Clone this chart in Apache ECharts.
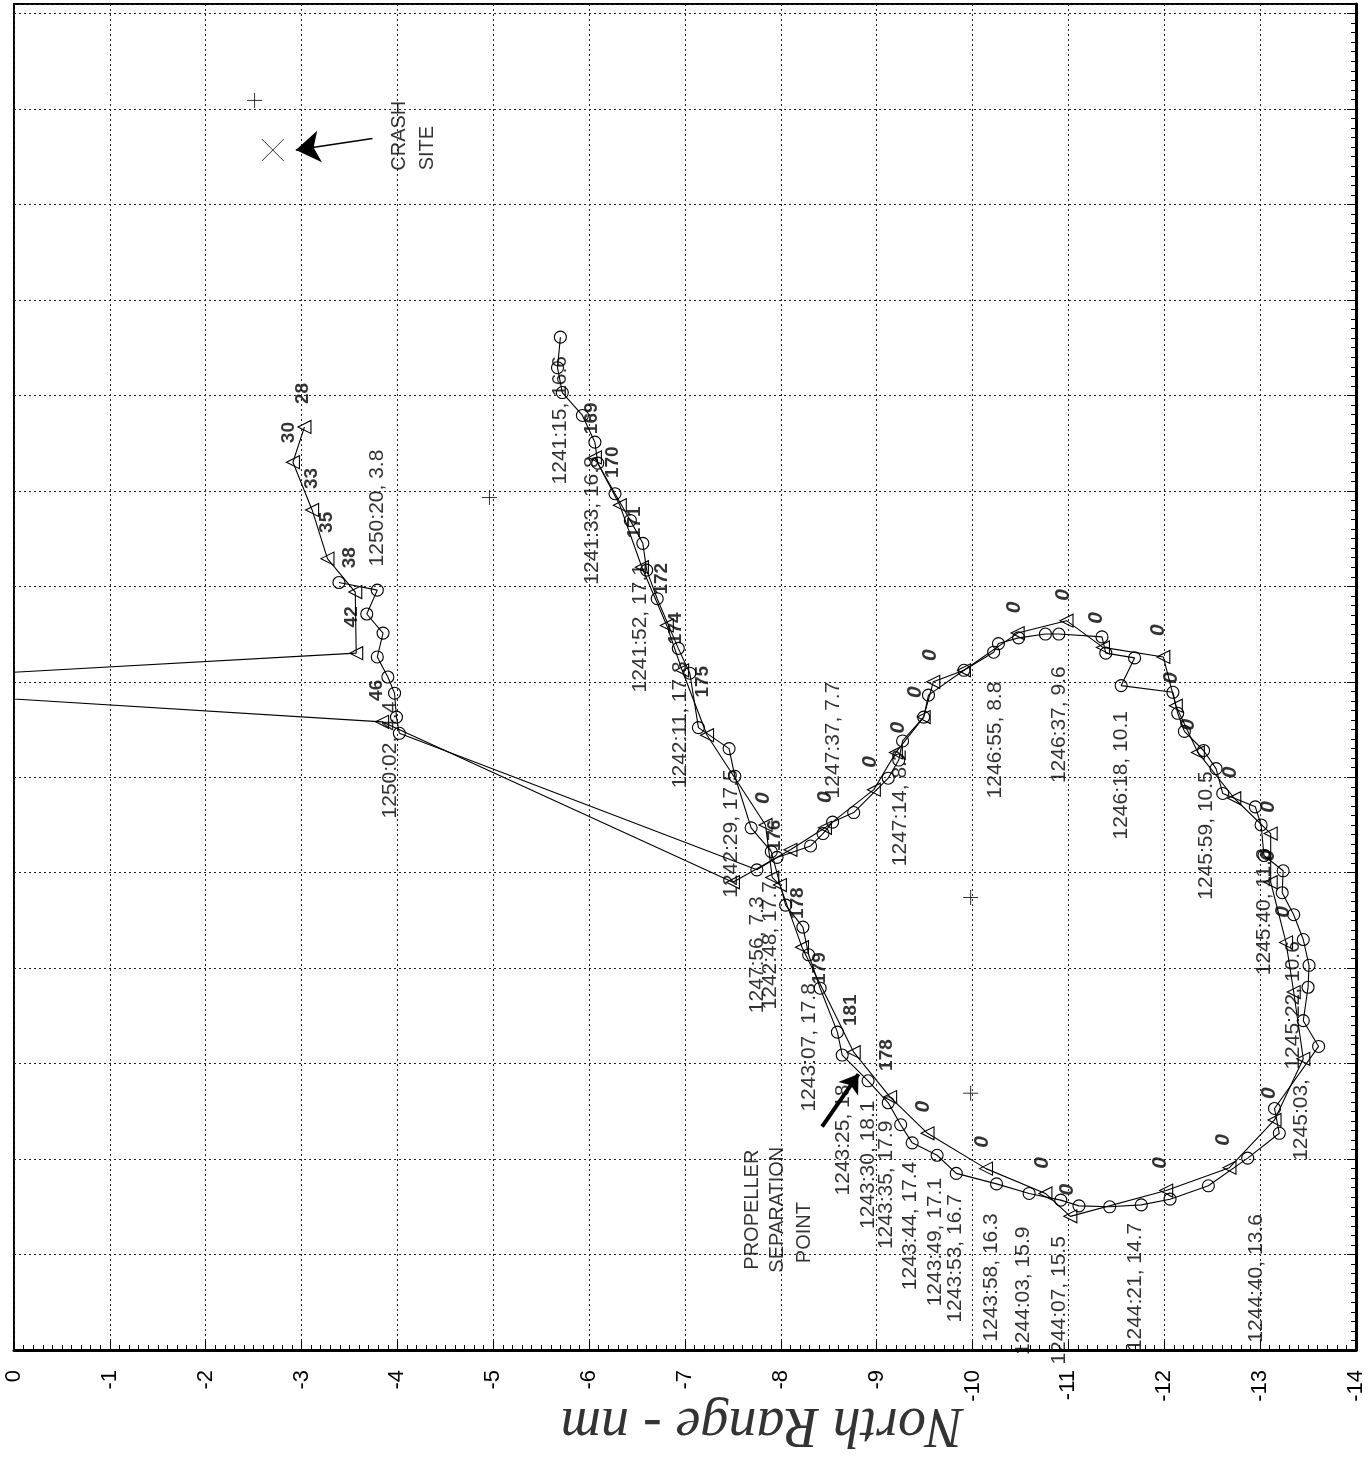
<!DOCTYPE html>
<html><head><meta charset="utf-8">
<script src="https://cdn.jsdelivr.net/npm/echarts@6/dist/echarts.min.js"></script>
<style>html,body{margin:0;padding:0;background:#fff}#c{width:1369px;height:1458px}</style>
</head><body><div id="c"></div>
<script>
// North range tick values (axis labels)
const northTicks = [0,-1,-2,-3,-4,-5,-6,-7,-8,-9,-10,-11,-12,-13,-14];

// Radar track (circles): [north range nm, cross range nm]
const circleTrack = [
[-5.70,10.61],[-5.67,10.29],[-5.72,10.03],[-5.93,9.79],[-6.06,9.51],[-6.09,9.29],[-6.27,8.97],[-6.43,8.69],
[-6.56,8.45],[-6.60,8.17],[-6.71,7.87],[-6.93,7.35],[-7.05,7.09],[-7.14,6.52],[-7.46,6.30],[-7.52,6.01],
[-7.69,5.47],[-7.90,5.22],[-8.05,4.66],[-8.23,4.43],[-8.29,4.14],[-8.41,3.79],[-8.59,3.33],[-8.64,3.09],
[-8.91,2.82],[-9.12,2.59],[-9.25,2.36],[-9.37,2.17],[-9.63,2.04],[-9.83,1.85],[-10.25,1.74],[-10.59,1.64],
[-10.92,1.57],[-11.11,1.51],[-11.43,1.50],[-11.76,1.52],[-12.06,1.58],[-12.46,1.72],[-12.87,2.01],[-13.20,2.27],
[-13.15,2.53],[-13.61,3.18],[-13.45,3.45],[-13.50,3.80],[-13.51,4.03],[-13.45,4.30],[-13.35,4.56],[-13.23,4.79],
[-13.24,5.02],[-13.04,5.18],[-13.01,5.50],[-12.95,5.69],[-12.61,5.83],[-12.54,6.09],[-12.41,6.28],[-12.21,6.48],
[-12.14,6.67],[-12.09,6.89],[-11.55,6.96],[-11.69,7.25],[-11.39,7.30],[-11.35,7.47],[-10.90,7.50],[-10.76,7.50],
[-10.48,7.46],[-10.27,7.40],[-10.22,7.31],[-9.91,7.12],[-9.54,6.86],[-9.49,6.63],[-9.27,6.38],[-9.23,6.18],
[-9.12,5.99],[-8.76,5.63],[-8.54,5.53],[-8.44,5.41],[-8.31,5.28],[-7.96,5.16],[-7.75,5.03],[-4.02,6.46],
[-3.99,6.63],[-3.97,6.88],[-3.90,7.05],[-3.79,7.26],[-3.85,7.51],[-3.68,7.71],[-3.79,7.96],[-3.39,8.04]
];

// Secondary track (triangles); 0 north = dropout to the axis
const triangleTrack = [
[-6.06,9.35],[-6.32,8.85],[-6.55,8.20],[-6.81,7.59],[-6.97,7.12],[-7.23,6.44],[-7.84,5.50],[-7.91,4.95],
[-7.99,4.87],[-8.22,4.22],[-8.76,3.12],[-9.14,2.65],[-9.53,2.27],[-10.14,1.90],[-10.76,1.64],[-11.02,1.40],
[-12.02,1.67],[-12.68,1.91],[-13.15,2.41],[-13.45,3.05],[-13.35,3.75],[-13.27,4.27],[-13.11,4.90],[-13.11,5.41],
[-12.73,5.78],[-12.35,6.26],[-12.12,6.75],[-11.99,7.26],[-11.36,7.36],[-10.98,7.64],[-10.47,7.51],[-9.91,7.12],
[-9.59,7.00],[-9.49,6.63],[-9.20,6.26],[-8.97,5.87],[-8.46,5.47],[-8.10,5.24],[-7.50,4.90],[-3.84,6.58],
[0,6.82],[0,7.10],[-3.57,7.30],[-3.56,7.94],[-3.27,8.29],[-3.11,8.80],[-2.91,9.30],[-3.03,9.67]
];

// Time / value annotations
const timeLabels = [
[-5.70,9.74,'1241:15, 16.6'],[-6.03,8.69,'1241:33, 16.8'],[-6.53,7.56,'1241:52, 17.1'],[-6.95,6.55,'1242:11, 17.3'],
[-7.48,5.41,'1242:29, 17.5'],[-7.89,4.24,'1242:48, 17.7'],[-8.30,3.17,'1243:07, 17.8'],[-8.65,2.20,'1243:25, 18'],
[-8.91,1.94,'1243:30, 18.1'],[-9.10,1.73,'1243:35, 17.9'],[-9.35,1.30,'1243:44, 17.4'],[-9.61,1.13,'1243:49, 17.1'],
[-9.82,0.96,'1243:53, 16.7'],[-10.19,0.76,'1243:58, 16.3'],[-10.53,0.62,'1244:03, 15.9'],[-10.90,0.52,'1244:07, 15.5'],
[-11.70,0.66,'1244:21, 14.7'],[-12.96,0.75,'1244:40, 13.6'],[-13.43,2.41,'1245:03,'],[-13.35,3.61,'1245:22, 10.6'],
[-13.04,4.59,'1245:40, 11.3'],[-12.44,5.39,'1245:59, 10.5'],[-11.55,6.02,'1246:18, 10.1'],[-10.90,6.55,'1246:37, 9.6'],
[-10.24,6.39,'1246:55, 8.8'],[-9.25,5.68,'1247:14, 8.2'],[-8.55,6.39,'1247:37, 7.7'],[-7.75,4.14,'1247:56, 7.3'],
[-3.92,6.18,'1250:02, 4.4'],[-3.79,8.82,'1250:20, 3.8']
];

// Triangle-track numeric tags
const triLabels = [
[-3.01,10.02,'28'],[-2.87,9.61,'30'],[-3.11,9.13,'33'],[-3.26,8.67,'35'],[-3.50,8.30,'38'],[-3.52,7.68,'42'],[-3.78,6.91,'46'],
[-6.03,9.76,'169'],[-6.25,9.30,'170'],[-6.48,8.67,'171'],[-6.76,8.08,'172'],[-6.90,7.56,'174'],[-7.19,7.00,'175'],
[-7.94,5.39,'176'],[-8.18,4.68,'178'],[-8.41,4.00,'179'],[-8.73,3.56,'181'],[-9.11,3.09,'178']
];
const zeroLabels = [
[-7.82,5.78],[-8.46,5.79],[-8.93,6.16],[-9.22,6.52],[-9.40,6.89],[-9.56,7.28],[-10.43,7.78],[-10.95,7.91],
[-11.29,7.67],[-11.94,7.54],[-12.07,7.04],[-12.25,6.55],[-12.69,6.05],[-13.08,5.69],[-13.08,5.18],[-13.24,4.59],
[-13.09,2.69],[-12.61,2.20],[-11.96,1.96],[-10.99,1.68],[-10.73,1.96],[-10.10,2.18],[-9.49,2.55]
];

const plusMarks = [[-2.51,13.09],[-4.96,8.93],[-9.98,4.74],[-9.98,2.69]];
const crashSite = [[-2.70,12.57]];
const crashArrow = [[-3.74,12.69],[-2.94,12.57]];
const propArrow = [[-8.43,2.34],[-8.81,2.89]];
const noteTexts = [
[-4.02,12.72,'CRASH'],[-4.31,12.59,'SITE'],
[-7.70,1.47,'PROPELLER'],[-7.97,1.47,'SEPARATION'],[-8.25,1.23,'POINT']
];

const FONT = 'Liberation Sans';
function textSeries(arr, label, z) {
  return {
    type: 'scatter', silent: true, z: z || 6,
    data: arr.map(d => ({ value: [d[0], d[1]], name: d.length > 2 ? d[2] : '0' })),
    symbolSize: 1, itemStyle: { color: 'transparent' },
    label: Object.assign({ show: true, formatter: p => p.name, rotate: 90, position: 'inside',
      align: 'center', verticalAlign: 'middle', color: '#000', fontFamily: FONT }, label)
  };
}

const chart = echarts.init(document.getElementById('c'), null, { renderer: 'canvas' });
chart.setOption({
  animation: false,
  backgroundColor: '#fff',
  grid: { left: 14, right: 13, top: 4, bottom: 108, show: true, borderColor: '#000', borderWidth: 2 },
  graphic: [{
    type: 'text', x: 762, y: 1424, rotation: Math.PI, silent: true,
    style: { text: 'North Range - nm', fontFamily: 'Liberation Serif', fontStyle: 'italic', fontSize: 56,
      fill: '#333', textAlign: 'center', textVerticalAlign: 'middle' }
  }],
  xAxis: {
    type: 'value', min: -14, max: 0, interval: 1, inverse: true, position: 'bottom',
    axisLine: { show: true, onZero: false, lineStyle: { color: '#000', width: 3 } },
    axisTick: { show: true, inside: true, length: 9, lineStyle: { color: '#000', width: 1 } },
    minorTick: { show: true, splitNumber: 10, length: 5, lineStyle: { color: '#000', width: 1 } },
    axisLabel: { rotate: 90, margin: 20, fontSize: 22, fontFamily: FONT, color: '#000',
      formatter: v => String(northTicks[Math.round(-v)]) },
    splitLine: { show: true, lineStyle: { color: '#222', type: [2, 3], width: 1 } }
  },
  yAxis: {
    type: 'value', min: 0, max: 14.1, interval: 1, position: 'right',
    axisLine: { show: true, onZero: false, lineStyle: { color: '#000', width: 3 } },
    axisTick: { show: true, inside: true, length: 9, lineStyle: { color: '#000', width: 1 } },
    minorTick: { show: true, splitNumber: 10, length: 5, lineStyle: { color: '#000', width: 1 } },
    axisLabel: { show: false },
    splitLine: { show: true, lineStyle: { color: '#222', type: [2, 3], width: 1 } }
  },
  series: [
    {
      type: 'line', data: circleTrack, symbol: 'circle', symbolSize: 12, showSymbol: true, z: 3,
      itemStyle: { color: 'transparent', borderColor: '#000', borderWidth: 1.1 },
      lineStyle: { color: '#000', width: 1.1 }
    },
    {
      type: 'line', z: 3,
      data: triangleTrack.map(p => p[0] === 0 ? { value: p, symbol: 'none' } : { value: p }),
      symbol: 'triangle', symbolRotate: 90, symbolSize: 13, showSymbol: true,
      itemStyle: { color: 'transparent', borderColor: '#000', borderWidth: 1.1 },
      lineStyle: { color: '#000', width: 1.1 }
    },
    {
      type: 'scatter', data: plusMarks, symbol: 'path://M5,0L5,10M0,5L10,5', symbolSize: 15, z: 4,
      itemStyle: { color: 'transparent', borderColor: '#000', borderWidth: 1 }
    },
    {
      type: 'scatter', data: crashSite, symbol: 'path://M0,0L10,10M10,0L0,10', symbolSize: 22, z: 4,
      itemStyle: { color: 'transparent', borderColor: '#000', borderWidth: 1 }
    },
    {
      type: 'lines', coordinateSystem: 'cartesian2d', z: 4,
      data: [{ coords: crashArrow }], symbol: ['none', 'arrow'], symbolSize: [0, 24],
      lineStyle: { color: '#000', width: 1.5, opacity: 1 }
    },
    {
      type: 'lines', coordinateSystem: 'cartesian2d', z: 4,
      data: [{ coords: propArrow }], symbol: ['none', 'arrow'], symbolSize: [0, 18],
      lineStyle: { color: '#000', width: 4, opacity: 1 }
    },
    textSeries(timeLabels, { fontSize: 21 }),
    textSeries(triLabels, { fontSize: 19, fontWeight: 'bold' }),
    textSeries(zeroLabels, { fontSize: 21, fontWeight: 'bold', fontStyle: 'italic' }),
    textSeries(noteTexts, { fontSize: 20 })
  ]
});
</script></body></html>
